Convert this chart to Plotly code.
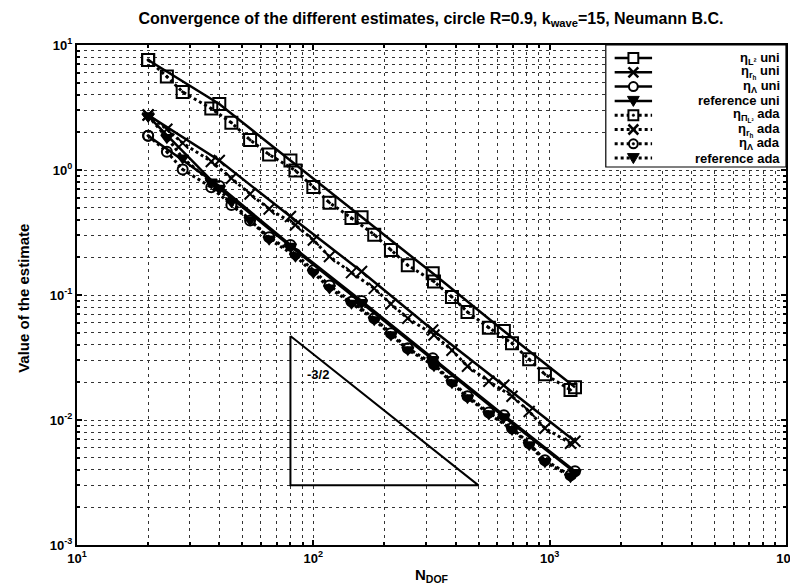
import math
import plotly.graph_objects as go

# ---------------- data ----------------
N_uni = [20, 40, 80, 160, 320, 640, 1280]
eta_L2_uni = [7.59, 3.37, 1.19, 0.419, 0.149, 0.0515, 0.0183]
eta_rh_uni = [2.75, 1.19, 0.424, 0.154, 0.0525, 0.0190, 0.00676]
eta_Lam_uni = [1.88, 0.745, 0.251, 0.0895, 0.0312, 0.0109, 0.00389]
ref_uni = [2.70, 0.714, 0.245, 0.087, 0.0305, 0.0106, 0.0038]

N_ada = [20, 24, 28, 37, 45, 54, 65, 84, 100, 117, 145, 181, 213, 251, 324,
         386, 449, 553, 693, 819, 955, 1225]
eta_PiL2_ada = [7.59, 5.59, 4.21, 3.10, 2.39, 1.74, 1.33, 0.989, 0.731, 0.548,
                0.413, 0.304, 0.229, 0.173, 0.128, 0.0964, 0.0731, 0.0548,
                0.0411, 0.0306, 0.0232, 0.0174]
eta_rh_ada = [2.75, 2.12, 1.64, 1.17, 0.859, 0.643, 0.488, 0.363, 0.275, 0.203,
              0.151, 0.113, 0.0847, 0.0651, 0.0479, 0.0361, 0.0269, 0.0204,
              0.0155, 0.0117, 0.0086, 0.00651]
eta_Lam_ada = [1.88, 1.40, 1.01, 0.727, 0.525, 0.395, 0.29, 0.213, 0.158, 0.119,
               0.0885, 0.0651, 0.0494, 0.0375, 0.0279, 0.0204, 0.0155, 0.0115,
               0.0086, 0.00651, 0.00476, 0.00361]
ref_ada = [2.70, 1.82, 1.25, 0.80, 0.56, 0.40, 0.28, 0.205, 0.152, 0.114, 0.086,
           0.0635, 0.048, 0.0365, 0.0272, 0.0199, 0.0151, 0.0112, 0.0084,
           0.00635, 0.00465, 0.00352]

# slope triangle
tri_x = [80, 80, 500, 80]
tri_y = [0.047, 0.003, 0.003, 0.047]
slope_label = "-3/2"
slope_label_pos = (92, 0.023)

x_tickvals = [10, 100, 1000, 10000]
x_ticktext = ["10<sup>1</sup>", "10<sup>2</sup>", "10<sup>3</sup>", "10<sup>4</sup>"]
y_tickvals = [0.001, 0.01, 0.1, 1, 10]
y_ticktext = ["10<sup>-3</sup>", "10<sup>-2</sup>", "10<sup>-1</sup>", "10<sup>0</sup>", "10<sup>1</sup>"]

labels = ["η<sub>L²</sub> uni", "η<sub>r<sub>h</sub></sub> uni", "η<sub>Λ</sub> uni",
          "reference uni", "η<sub>Π<sub>L²</sub></sub> ada", "η<sub>r<sub>h</sub></sub> ada",
          "η<sub>Λ</sub> ada", "reference ada"]

FONT = "Liberation Sans"
W, H = 798, 585
ML, MR, MT, MB = 69, 9, 37, 48
PW, PH = W - ML - MR, H - MT - MB


def px2x(px):
    return (px - ML) / PW


def px2y(py):
    return (H - MB - py) / PH


fig = go.Figure()

series = [
    (N_uni, eta_L2_uni, "square-open", "solid", 12),
    (N_uni, eta_rh_uni, "x-thin-open", "solid", 11),
    (N_uni, eta_Lam_uni, "circle-open", "solid", 10),
    (N_uni, ref_uni, "triangle-down", "solid", 10),
    (N_ada, eta_PiL2_ada, "square-open-dot", "dot", 12),
    (N_ada, eta_rh_ada, "x-thin-open", "dot", 11),
    (N_ada, eta_Lam_ada, "circle-open-dot", "dot", 10),
    (N_ada, ref_ada, "triangle-down", "dot", 10),
]

for (xs, ys, sym, dash, size), name in zip(series, labels):
    fig.add_trace(go.Scatter(
        x=xs, y=ys, name=name, mode="lines+markers", showlegend=False,
        line=dict(color="black", width=2.5 if dash == "solid" else 3,
                  dash="solid" if dash == "solid" else "3px,3px"),
        marker=dict(symbol=sym, size=size, color="black",
                    line=dict(color="black", width=2)),
    ))

fig.add_trace(go.Scatter(
    x=tri_x, y=tri_y, mode="lines", showlegend=False,
    line=dict(color="black", width=2), hoverinfo="skip",
))

# annotations on log axes take log10 coordinates
fig.add_annotation(
    x=math.log10(slope_label_pos[0]), y=math.log10(slope_label_pos[1]),
    xref="x", yref="y",
    text=slope_label, showarrow=False, xanchor="left", yanchor="middle",
    font=dict(family=FONT, size=13, color="black", weight="bold"),
)

# ---------------- legend (drawn as layout shapes + text) ----------------
shapes = []
LEG_L, LEG_R, LEG_T, LEG_B = 606, 789, 37, 159
shapes.append(dict(type="rect", xref="paper", yref="paper",
                   x0=px2x(LEG_L), x1=px2x(LEG_R), y0=px2y(LEG_B), y1=px2y(LEG_T),
                   fillcolor="white", line=dict(color="black", width=1.2), layer="above"))
row0, drow = 50, 14.3
sx0, sx1, mx = 615, 653, 634
kinds = ["sq", "x", "ci", "tri", "sqd", "x", "cid", "tri"]
for i, (kind, lab) in enumerate(zip(kinds, labels)):
    cy = row0 + i * drow
    dash = "solid" if i < 4 else "3px,3px"
    shapes.append(dict(type="line", xref="paper", yref="paper",
                       x0=px2x(sx0), x1=px2x(sx1), y0=px2y(cy), y1=px2y(cy),
                       line=dict(color="black", width=2.5 if i < 4 else 3, dash=dash),
                       layer="above"))
    if kind in ("sq", "sqd"):
        shapes.append(dict(type="rect", xref="paper", yref="paper",
                           x0=px2x(mx - 5), x1=px2x(mx + 5), y0=px2y(cy + 5), y1=px2y(cy - 5),
                           fillcolor="white", line=dict(color="black", width=2), layer="above"))
    elif kind in ("ci", "cid"):
        shapes.append(dict(type="circle", xref="paper", yref="paper",
                           x0=px2x(mx - 4.5), x1=px2x(mx + 4.5), y0=px2y(cy + 4.5), y1=px2y(cy - 4.5),
                           fillcolor="white", line=dict(color="black", width=2), layer="above"))
    elif kind == "x":
        for a, b in ((-5, 5), (5, -5)):
            shapes.append(dict(type="line", xref="paper", yref="paper",
                               x0=px2x(mx - 5), x1=px2x(mx + 5), y0=px2y(cy + a), y1=px2y(cy + b),
                               line=dict(color="black", width=2.5), layer="above"))
    elif kind == "tri":
        path = "M {},{} L {},{} L {},{} Z".format(
            px2x(mx - 6), px2y(cy - 4.5), px2x(mx + 6), px2y(cy - 4.5), px2x(mx), px2y(cy + 5.5))
        shapes.append(dict(type="path", xref="paper", yref="paper", path=path,
                           fillcolor="black", line=dict(color="black", width=1), layer="above"))
    if kind in ("sqd", "cid"):
        shapes.append(dict(type="circle", xref="paper", yref="paper",
                           x0=px2x(mx - 1.3), x1=px2x(mx + 1.3), y0=px2y(cy + 1.3), y1=px2y(cy - 1.3),
                           fillcolor="black", line=dict(color="black", width=0.5), layer="above"))
    fig.add_annotation(x=px2x(785), y=px2y(cy), xref="paper", yref="paper",
                       text=lab, showarrow=False, xanchor="right", yanchor="middle",
                       font=dict(family=FONT, size=13, color="black", weight="bold"))

# y axis title
fig.add_annotation(x=px2x(14), y=px2y(290), xref="paper", yref="paper",
                   text="Value of the estimate", textangle=-90, showarrow=False,
                   xanchor="center", yanchor="middle",
                   font=dict(family=FONT, size=15, color="black", weight="bold"))

grid_common = dict(gridcolor="#333333", gridwidth=1, griddash="3px,4px")

fig.update_xaxes(
    type="log", range=[1, 4], tickmode="array",
    tickvals=x_tickvals, ticktext=x_ticktext,
    showline=True, linecolor="black", linewidth=2, mirror="allticks",
    ticks="inside", ticklen=5, tickwidth=1.5, tickcolor="black",
    showgrid=True, **grid_common,
    minor=dict(dtick="D1", ticks="inside", ticklen=3, tickcolor="black",
               showgrid=True, **grid_common),
    tickfont=dict(family=FONT, size=13, color="black", weight="bold"),
    title=dict(text="N<sub>DOF</sub>", standoff=5,
               font=dict(family=FONT, size=15, color="black", weight="bold")),
    zeroline=False,
)
fig.update_yaxes(
    type="log", range=[-3, 1], tickmode="array",
    tickvals=y_tickvals, ticktext=y_ticktext,
    showline=True, linecolor="black", linewidth=2, mirror="allticks",
    ticks="inside", ticklen=5, tickwidth=1.5, tickcolor="black",
    showgrid=True, **grid_common,
    minor=dict(dtick="D1", ticks="inside", ticklen=3, tickcolor="black",
               showgrid=True, **grid_common),
    tickfont=dict(family=FONT, size=13, color="black", weight="bold"),
    zeroline=False,
)

fig.update_layout(
    width=W, height=H,
    margin=dict(l=ML, r=MR, t=MT, b=MB),
    paper_bgcolor="white", plot_bgcolor="white",
    shapes=shapes,
    title=dict(text="Convergence of the different estimates, circle R=0.9, k<sub>wave</sub>=15, Neumann B.C.",
               x=0.53, xanchor="center", y=0.982, yanchor="middle",
               font=dict(family=FONT, size=16, color="black", weight="bold")),
    showlegend=False,
)

fig.write_html("out.html")
